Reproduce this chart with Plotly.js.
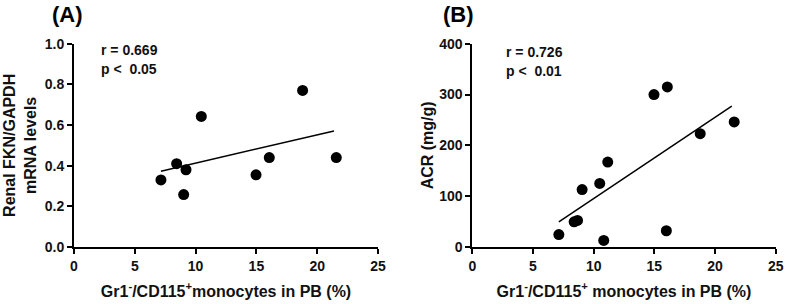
<!DOCTYPE html>
<html>
<head>
<meta charset="utf-8">
<script src="https://cdn.plot.ly/plotly-3.0.1.min.js"></script>
<style>html,body{margin:0;padding:0;background:#fff;}#chart{width:788px;height:304px;}</style>
</head>
<body>
<div id="chart"></div>
<script>
// Panel A: Renal FKN/GAPDH mRNA vs Gr1-/CD115+ monocytes
var monoA = [7.15, 8.44, 9.21, 9.02, 10.47, 14.97, 16.06, 18.8, 21.57];
var fknA  = [0.33, 0.41, 0.38, 0.258, 0.642, 0.355, 0.44, 0.77, 0.44];
var fitAx = [7.15, 21.38];
var fitAy = [0.373, 0.571];

// Panel B: ACR vs Gr1-/CD115+ monocytes
var monoB = [7.13, 8.39, 8.67, 9.05, 10.5, 10.83, 11.16, 14.97, 16.07, 15.99, 18.78, 21.58];
var acrB  = [24.5, 49.5, 52.3, 113, 125, 13, 167, 300, 315, 32, 223, 246];
var fitBx = [7.13, 21.38];
var fitBy = [49.5, 277];

var xTicks = [0, 5, 10, 15, 20, 25];
var xTickText = ['0', '5', '10', '15', '20', '25'];
var yTicksA = [0, 0.2, 0.4, 0.6, 0.8, 1.0];
var yTickTextA = ['0.0', '0.2', '0.4', '0.6', '0.8', '1.0'];
var yTicksB = [0, 100, 200, 300, 400];
var yTickTextB = ['0', '100', '200', '300', '400'];

var FONT = 'Arial, "Liberation Sans", Helvetica, sans-serif';
var INK = '#111';

function bold(arr) { return arr.map(function (t) { return '<b>' + t + '</b>'; }); }

var traces = [
  {x: monoA, y: fknA, type: 'scatter', mode: 'markers', xaxis: 'x', yaxis: 'y',
   marker: {color: '#000', size: 11}, cliponaxis: false},
  {x: fitAx, y: fitAy, type: 'scatter', mode: 'lines', xaxis: 'x', yaxis: 'y',
   line: {color: '#000', width: 1.5}},
  {x: monoB, y: acrB, type: 'scatter', mode: 'markers', xaxis: 'x2', yaxis: 'y2',
   marker: {color: '#000', size: 11}, cliponaxis: false},
  {x: fitBx, y: fitBy, type: 'scatter', mode: 'lines', xaxis: 'x2', yaxis: 'y2',
   line: {color: '#000', width: 1.5}}
];

function xAxis(domain, anchor, title) {
  return {
    domain: domain, anchor: anchor, range: [0, 25], tickvals: xTicks, ticktext: bold(xTickText),
    showline: true, linecolor: '#000', linewidth: 2, mirror: false,
    ticks: 'outside', ticklen: 5, tickwidth: 2, tickcolor: '#000',
    showgrid: false, zeroline: false,
    tickfont: {family: FONT, size: 14, color: INK},
    title: {text: '<b>' + title + '</b>', font: {family: FONT, size: 16, color: INK}, standoff: 13}
  };
}
function yAxis(domain, anchor, range, vals, text, title, standoff) {
  return {
    domain: domain, anchor: anchor, range: range, tickvals: vals, ticktext: bold(text),
    showline: true, linecolor: '#000', linewidth: 2,
    ticks: 'outside', ticklen: 5, tickwidth: 2, tickcolor: '#000',
    showgrid: false, zeroline: false,
    tickfont: {family: FONT, size: 14, color: INK},
    title: {text: title, font: {family: FONT, size: 16, color: INK}, standoff: standoff}
  };
}

var yDom = [57 / 304, (304 - 43.7) / 304];

var layout = {
  width: 788, height: 304,
  margin: {l: 0, r: 0, t: 0, b: 0},
  paper_bgcolor: '#fff', plot_bgcolor: '#fff',
  showlegend: false,
  font: {family: FONT, color: INK},
  xaxis: xAxis([74 / 788, 378 / 788], 'y', 'Gr1<sup>-</sup>/CD115<sup>+</sup>monocytes in PB (%)'),
  yaxis: yAxis(yDom, 'x', [0, 1], yTicksA, yTickTextA, '<b>Renal FKN/GAPDH</b><br><b>mRNA levels</b>', 4),
  xaxis2: xAxis([472.3 / 788, 775.7 / 788], 'y2', 'Gr1<sup>-</sup>/CD115<sup>+</sup> monocytes in PB (%)'),
  yaxis2: yAxis(yDom, 'x2', [0, 400], yTicksB, yTickTextB, '<b>ACR (mg/g)</b>', 2),
  annotations: [
    {text: '<b>(A)</b>', xref: 'paper', yref: 'paper', x: 67 / 788, y: 1 - 15 / 304,
     xanchor: 'center', yanchor: 'middle', showarrow: false, font: {family: FONT, size: 22, color: '#000'}},
    {text: '<b>(B)</b>', xref: 'paper', yref: 'paper', x: 458 / 788, y: 1 - 15 / 304,
     xanchor: 'center', yanchor: 'middle', showarrow: false, font: {family: FONT, size: 22, color: '#000'}},
    {text: '<b>r = 0.669</b>', xref: 'paper', yref: 'paper', x: 99 / 788, y: 1 - 50 / 304,
     xanchor: 'left', yanchor: 'middle', showarrow: false, font: {family: FONT, size: 14, color: INK}},
    {text: '<b>p <  0.05</b>', xref: 'paper', yref: 'paper', x: 99 / 788, y: 1 - 69 / 304,
     xanchor: 'left', yanchor: 'middle', showarrow: false, font: {family: FONT, size: 14, color: INK}},
    {text: '<b>r = 0.726</b>', xref: 'paper', yref: 'paper', x: 504 / 788, y: 1 - 52 / 304,
     xanchor: 'left', yanchor: 'middle', showarrow: false, font: {family: FONT, size: 14, color: INK}},
    {text: '<b>p <  0.01</b>', xref: 'paper', yref: 'paper', x: 504 / 788, y: 1 - 71 / 304,
     xanchor: 'left', yanchor: 'middle', showarrow: false, font: {family: FONT, size: 14, color: INK}}
  ]
};

Plotly.newPlot('chart', traces, layout, {staticPlot: true, displayModeBar: false});
</script>
</body>
</html>
